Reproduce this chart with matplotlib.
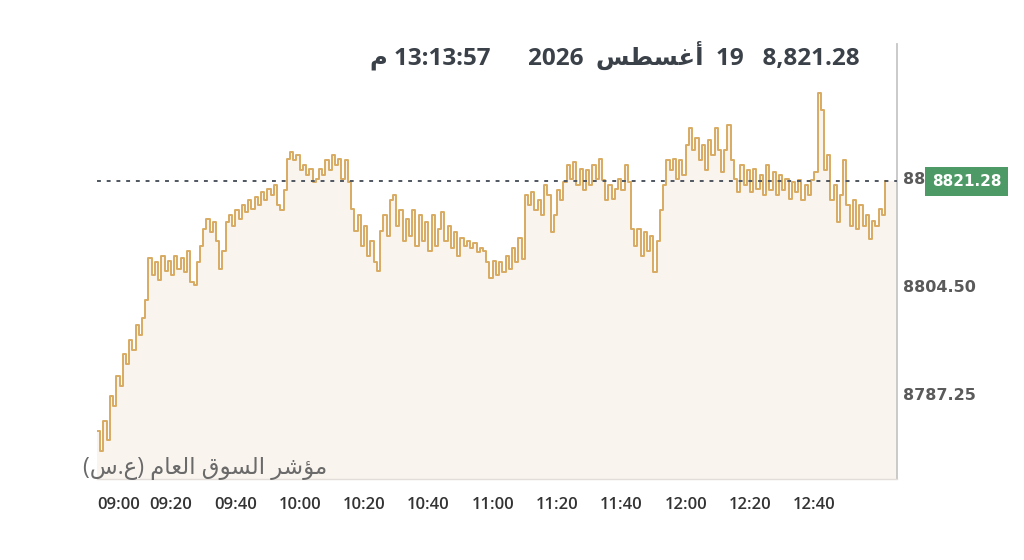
import numpy as np
import matplotlib
matplotlib.use("Agg")
import matplotlib.pyplot as plt
import matplotlib.transforms as mtrans

# minutes relative to 09:00, one reading per minute
minutes = np.arange(-3, 243)
values = [
    8781.4, 8778.2, 8783.0, 8779.9, 8787.0, 8785.4, 8790.2, 8788.6, 8793.6, 8792.0,
    8795.9, 8794.3, 8798.3, 8796.7, 8799.4, 8802.3, 8809.0, 8806.3, 8808.4, 8805.5,
    8809.4, 8807.0, 8808.6, 8806.3, 8809.4, 8807.3, 8809.0, 8806.7, 8810.2, 8805.1,
    8804.7, 8808.4, 8811.0, 8813.7, 8815.3, 8813.1, 8814.7, 8811.8, 8807.3, 8810.2,
    8814.7, 8815.8, 8814.2, 8816.6, 8815.3, 8817.4, 8816.3, 8818.2, 8816.9, 8818.8,
    8817.4, 8819.5, 8818.2, 8820.1, 8819.0, 8820.6, 8817.4, 8816.6, 8819.8, 8824.9,
    8825.9, 8824.6, 8825.4, 8823.0, 8823.8, 8822.2, 8823.3, 8821.1, 8821.7, 8823.3,
    8822.2, 8824.6, 8823.0, 8825.4, 8823.8, 8824.9, 8821.7, 8824.6, 8821.1, 8816.9,
    8813.4, 8815.8, 8811.0, 8814.2, 8809.4, 8811.8, 8808.4, 8807.0, 8813.4, 8815.8,
    8812.6, 8818.2, 8819.0, 8814.2, 8816.6, 8811.8, 8815.3, 8812.6, 8816.6, 8811.0,
    8815.8, 8811.8, 8814.7, 8810.2, 8815.8, 8811.0, 8813.7, 8816.3, 8811.8, 8814.2,
    8810.6, 8813.1, 8809.4, 8812.2, 8811.0, 8811.8, 8810.6, 8811.4, 8810.0, 8810.6,
    8810.2, 8808.4, 8805.8, 8808.6, 8806.3, 8808.4, 8806.7, 8809.4, 8807.3, 8810.6,
    8808.4, 8812.2, 8808.8, 8819.0, 8817.4, 8819.5, 8816.6, 8818.2, 8815.8, 8820.6,
    8819.0, 8813.1, 8815.8, 8819.8, 8818.2, 8821.1, 8823.8, 8821.7, 8824.3, 8820.6,
    8823.3, 8819.8, 8823.0, 8820.6, 8823.8, 8821.7, 8824.9, 8821.4, 8818.2, 8820.6,
    8818.5, 8820.1, 8821.7, 8819.8, 8823.8, 8821.1, 8813.7, 8811.0, 8813.7, 8809.4,
    8813.1, 8810.2, 8812.6, 8806.7, 8811.8, 8816.6, 8820.6, 8824.6, 8823.0, 8824.9,
    8821.7, 8824.6, 8822.2, 8827.0, 8829.7, 8826.2, 8828.2, 8824.6, 8827.0, 8823.0,
    8827.8, 8825.4, 8829.7, 8826.2, 8822.7, 8826.2, 8830.2, 8824.6, 8821.7, 8819.5,
    8823.8, 8820.6, 8823.0, 8819.5, 8823.3, 8820.1, 8822.2, 8819.0, 8823.8, 8819.8,
    8822.7, 8819.0, 8822.2, 8819.8, 8821.7, 8818.5, 8821.1, 8819.5, 8821.4, 8818.2,
    8820.6, 8819.0, 8821.4, 8822.7, 8835.3, 8832.6, 8823.0, 8825.4, 8818.2, 8820.6,
    8814.7, 8819.0, 8824.6, 8817.4, 8814.2, 8818.2, 8813.7, 8817.4, 8814.2, 8815.8,
    8812.0, 8815.0, 8814.2, 8816.9, 8815.8, 8821.28,
]
last_value = 8821.28

tick_pos = [-3, 20, 40, 60, 80, 100, 120, 140, 160, 180, 200, 220]
tick_labels = ["09:00", "09:20", "09:40", "10:00", "10:20", "10:40",
               "11:00", "11:20", "11:40", "12:00", "12:20", "12:40"]
y_ticks = [8787.25, 8804.50, 8821.75]

# Arabic text in presentation forms, already in visual (left-to-right) order
month = "\uFEB2\uFEC4\uFEB4\uFECF\uFE83"           # أغسطس
pm = "\uFEE1"                                       # م
title = pm + " 13:13:57      2026  " + month + "  19   8,821.28"
w_index = "\uFEAE\uFEB7\uFE86\uFEE3"               # مؤشر
w_market = "\uFED5\uFEEE\uFEB4\uFEDF\uFE8D"        # السوق
w_general = "\uFEE1\uFE8E\uFECC\uFEDF\uFE8D"       # العام
index_name = "(\uFEB1.\uFEC9) " + w_general + " " + w_market + " " + w_index

line_col = "#d8ab62"
fill_col = "#f9f4ee"

fig = plt.figure(figsize=(10.24, 5.6), dpi=100)
ax = fig.add_axes([97 / 1024, 1 - 479 / 560, 800 / 1024, 435 / 560])

xmax = 245.7
ax.fill_between(np.append(minutes, xmax), np.append(values, last_value), 8700,
                color=fill_col, lw=0, step="post")
ax.plot(minutes, values, color=line_col, lw=1.4, drawstyle="steps-post")
ax.axhline(last_value, color="#4f5660", lw=1.4, ls=(0, (2, 3)), zorder=4)

ax.set_xlim(-3, xmax)
ax.set_ylim(8773.7, 8843.2)

ax.set_xticks(tick_pos)
ax.set_xticklabels(tick_labels, fontfamily="Open Sans", fontweight="semibold",
                   fontsize=12, color="#333333")
ax.get_xticklabels()[0].set_ha("left")
ax.tick_params(axis="x", length=0, pad=13)

ax.yaxis.tick_right()
ax.set_yticks(y_ticks)
ax.set_yticklabels(["%.2f" % v for v in y_ticks], fontfamily="DejaVu Sans",
                   fontweight="bold", fontsize=11.5, color="#5a5a5a")
ax.tick_params(axis="y", length=0, pad=4)

for s in ["top", "left"]:
    ax.spines[s].set_visible(False)
ax.spines["right"].set_color("#c6c6c6")
ax.spines["right"].set_linewidth(1.3)
ax.spines["bottom"].set_color("#e2ddd8")
ax.spines["bottom"].set_linewidth(1.0)

# price badge on the right
trans = mtrans.blended_transform_factory(ax.transAxes, ax.transData)
ax.text(1.087, last_value, "8821.28", transform=trans, ha="center", va="center",
        fontsize=11, fontweight="bold", color="white", fontfamily="DejaVu Sans",
        clip_on=False, zorder=6,
        bbox=dict(boxstyle="square,pad=0.45", fc="#4e9a66", ec="none"))

fig.text(860 / 1024, 1 - 56 / 560, title, ha="right", va="center",
         fontsize=17.5, fontweight="bold", color="#3b4149",
         family=["Open Sans", "DejaVu Sans"])
fig.text(83 / 1024, 1 - 468 / 560, index_name, ha="left", va="center",
         fontsize=16.5, color="#6a6a6a", family=["Open Sans", "DejaVu Sans"])

fig.savefig("out.png", dpi=100, facecolor="white")
